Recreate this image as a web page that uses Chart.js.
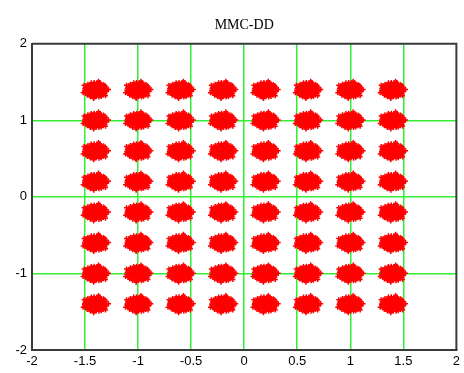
<!DOCTYPE html>
<html>
<head>
<meta charset="utf-8">
<script src="https://cdn.jsdelivr.net/npm/chart.js@4"></script>
<style>
  html, body { margin: 0; padding: 0; background: #fff; }
  #wrap { width: 464px; height: 373px; }
</style>
</head>
<body>
<div id="wrap"><canvas id="chart" width="464" height="373"></canvas></div>
<script>
// --- Data ---
const titleText = 'MMC-DD';
// symbol centres of the 8x8 constellation (I and Q levels)
const levelsI = [-1.4, -1.0, -0.6, -0.2, 0.2, 0.6, 1.0, 1.4];
const levelsQ = [1.4, 1.0, 0.6, 0.2, -0.2, -0.6, -1.0, -1.4];
// shape of one noise cloud, read from a single cluster: [dI, dQ] offsets from its centre
const cloud = [
    [-0.05, -0.092], [-0.022, -0.097], [0.006, -0.09], [0.031, -0.095], [0.052, -0.088],
    [-0.079, -0.071], [-0.055, -0.074], [-0.028, -0.068], [-0.004, -0.073], [0.021, -0.069], [0.046, -0.075], [0.072, -0.07],
    [-0.094, -0.049], [-0.068, -0.053], [-0.043, -0.048], [-0.017, -0.052], [0.008, -0.047], [0.034, -0.051], [0.059, -0.049], [0.088, -0.053],
    [-0.101, -0.031], [-0.077, -0.027], [-0.052, -0.033], [-0.026, -0.028], [-0.001, -0.032], [0.025, -0.027], [0.051, -0.031], [0.076, -0.029], [0.099, -0.026],
    [-0.106, -0.009], [-0.082, -0.012], [-0.057, -0.007], [-0.031, -0.011], [-0.006, -0.008], [0.019, -0.012], [0.044, -0.006], [0.069, -0.011], [0.094, -0.008],
    [-0.103, 0.012], [-0.078, 0.009], [-0.053, 0.013], [-0.027, 0.008], [-0.002, 0.011], [0.023, 0.014], [0.048, 0.009], [0.073, 0.012], [0.101, 0.01],
    [-0.098, 0.031], [-0.072, 0.034], [-0.047, 0.029], [-0.021, 0.033], [0.004, 0.03], [0.029, 0.035], [0.055, 0.031], [0.081, 0.028], [0.097, 0.036],
    [-0.089, 0.053], [-0.063, 0.05], [-0.038, 0.055], [-0.012, 0.051], [0.013, 0.054], [0.039, 0.049], [0.064, 0.052], [0.087, 0.056],
    [-0.073, 0.073], [-0.047, 0.07], [-0.022, 0.075], [0.003, 0.071], [0.028, 0.076], [0.053, 0.072], [0.074, 0.069],
    [-0.041, 0.091], [-0.014, 0.094], [0.012, 0.09], [0.038, 0.093],
    [0.121, 0.004], [-0.118, -0.041], [0.027, 0.112], [-0.018, -0.114], [0.093, -0.078], [-0.109, 0.058]
];
const xTicks = [-2, -1.5, -1, -0.5, 0, 0.5, 1, 1.5, 2];
const yTicks = [-2, -1, 0, 1, 2];

// --- Build the points ---
const points = [];
levelsQ.forEach(q => {
    levelsI.forEach(i => {
        cloud.forEach(([dx, dy]) => {
            points.push({ x: i + dx, y: q + dy });
        });
    });
});

// grid only inside the frame, not on the ±2 edges
function gridColour(ctx) {
    const v = ctx.tick ? ctx.tick.value : 0;
    return (v === -2 || v === 2) ? 'rgba(0,0,0,0)' : '#33ee33';
}

const tickFont = { family: '"Liberation Sans", Arial, sans-serif', size: 13 };

new Chart(document.getElementById('chart'), {
    type: 'scatter',
    data: {
        datasets: [{
            data: points,
            pointStyle: 'cross',
            radius: 2.5,
            borderWidth: 1.5,
            borderColor: '#ff0000',
            backgroundColor: '#ff0000'
        }]
    },
    options: {
        responsive: false,
        animation: false,
        layout: { padding: { left: 0, right: 3, top: 0, bottom: 0 } },
        plugins: {
            legend: { display: false },
            tooltip: { enabled: false },
            title: {
                display: true,
                text: titleText,
                fullSize: false,
                color: '#000',
                font: { family: '"Liberation Serif", "Times New Roman", serif', size: 14, weight: 'normal' },
                padding: { top: 17, bottom: 10 }
            }
        },
        scales: {
            x: {
                type: 'linear',
                min: -2, max: 2,
                afterBuildTicks: s => { s.ticks = xTicks.map(v => ({ value: v })); },
                afterFit: s => { s.height = 23; },
                grid: { color: gridColour, lineWidth: 1.5, drawTicks: false },
                border: { color: '#3a3a3a', width: 2 },
                ticks: { color: '#000', font: tickFont, padding: 4, maxRotation: 0, autoSkip: false,
                         callback: v => String(v) }
            },
            y: {
                type: 'linear',
                min: -2, max: 2,
                afterBuildTicks: s => { s.ticks = yTicks.map(v => ({ value: v })); },
                afterFit: s => { s.width = 32; },
                grid: { color: gridColour, lineWidth: 1.5, drawTicks: false },
                border: { color: '#3a3a3a', width: 2 },
                ticks: { color: '#000', font: tickFont, padding: 5, callback: v => String(v) }
            }
        }
    },
    plugins: [{
        // close the frame on the top and right sides
        id: 'frame',
        afterDraw(chart) {
            const a = chart.chartArea;
            const c = chart.ctx;
            c.save();
            c.strokeStyle = '#3a3a3a';
            c.lineWidth = 2;
            c.beginPath();
            c.moveTo(a.left, a.top);
            c.lineTo(a.right, a.top);
            c.lineTo(a.right, a.bottom);
            c.stroke();
            c.restore();
        }
    }]
});
</script>
</body>
</html>
